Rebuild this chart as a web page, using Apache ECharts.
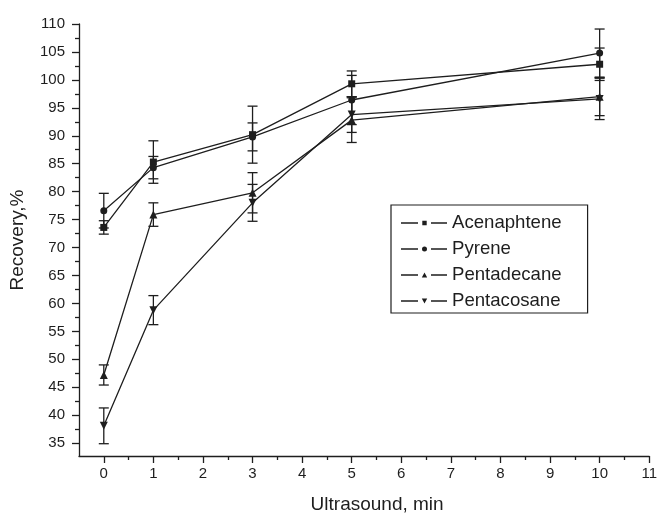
<!DOCTYPE html>
<html>
<head>
<meta charset="utf-8">
<script src="https://cdn.jsdelivr.net/npm/echarts@6/dist/echarts.min.js"></script>
<style>
html,body{margin:0;padding:0;background:#fff;}
#chart{width:660px;height:519px;}
</style>
</head>
<body>
<div id="chart"></div>
<script>
// ---- data ----
const xValues = [0, 1, 3, 5, 10];
const seriesNames = ['Acenaphtene', 'Pyrene', 'Pentadecane', 'Pentacosane'];
const acenaphtene    = [73.6, 85.3, 90.2, 99.3, 102.8];
const acenaphteneErr = [1.2, 3.8, 5.1, 2.3, 2.9];
const pyrene         = [76.6, 84.3, 89.8, 96.4, 104.8];
const pyreneErr      = [3.1, 2.0, 2.5, 4.4, 4.3];
const pentadecane    = [47.2, 75.9, 79.8, 92.8, 97.0];
const pentadecaneErr = [1.8, 2.1, 3.6, 4.0, 3.4];
const pentacosane    = [38.1, 58.8, 78.0, 93.8, 96.6];
const pentacosaneErr = [3.2, 2.6, 3.3, 3.2, 3.7];
const xTickValues = [0,1,2,3,4,5,6,7,8,9,10,11];
const xMinorTicks = [0.5,1.5,2.5,3.5,4.5,5.5,6.5,7.5,8.5,9.5,10.5];
const yTickValues = [35,40,45,50,55,60,65,70,75,80,85,90,95,100,105,110];
const yMinorTicks = [37.5,42.5,47.5,52.5,57.5,62.5,67.5,72.5,77.5,82.5,87.5,92.5,97.5,102.5,107.5];

const values = [acenaphtene, pyrene, pentadecane, pentacosane];
const errs = [acenaphteneErr, pyreneErr, pentadecaneErr, pentacosaneErr];
const symbols = ['rect', 'circle', 'triangle', 'triangle'];
const symbolSizes = [7, 7, 8, 8];
const rotates = [0, 0, 0, 180];

const INK = '#1e1e1e';
const FONT = 'Liberation Sans, Arial, sans-serif';

// legend icons: dash - small marker - dash (46 x 5 box)
const dashes = 'M0,1.85 H17 V3.15 H0 Z M30,1.85 H46 V3.15 H30 Z ';
const legendIcons = [
  'path://' + dashes + 'M21.3,0.3 H25.7 V4.7 H21.3 Z',
  'path://' + dashes + 'M21,2.5 A2.5,2.5 0 1,1 26,2.5 A2.5,2.5 0 1,1 21,2.5 Z',
  'path://' + dashes + 'M23.5,0 L26.2,5 L20.8,5 Z',
  'path://' + dashes + 'M20.8,0 L26.2,0 L23.5,5 Z'
];

const chart = echarts.init(document.getElementById('chart'), null, {renderer: 'canvas'});

const series = [];
values.forEach((vals, i) => {
  series.push({
    name: seriesNames[i] + ' err',
    type: 'custom',
    xAxisIndex: 0, yAxisIndex: 0,
    silent: true,
    z: 1,
    data: xValues.map((x, k) => [x, vals[k] - errs[i][k], vals[k] + errs[i][k]]),
    renderItem: function (params, api) {
      const x = api.value(0);
      const lo = api.coord([x, api.value(1)]);
      const hi = api.coord([x, api.value(2)]);
      const hw = 5;
      const style = {stroke: INK, lineWidth: 1.3, fill: null};
      return {
        type: 'group',
        children: [
          {type: 'line', shape: {x1: lo[0], y1: lo[1], x2: hi[0], y2: hi[1]}, style: style},
          {type: 'line', shape: {x1: lo[0] - hw, y1: lo[1], x2: lo[0] + hw, y2: lo[1]}, style: style},
          {type: 'line', shape: {x1: hi[0] - hw, y1: hi[1], x2: hi[0] + hw, y2: hi[1]}, style: style}
        ]
      };
    }
  });
});
values.forEach((vals, i) => {
  series.push({
    name: seriesNames[i],
    type: 'line',
    xAxisIndex: 0, yAxisIndex: 0,
    z: 3,
    data: xValues.map((x, k) => [x, vals[k]]),
    symbol: symbols[i],
    symbolSize: symbolSizes[i],
    symbolRotate: rotates[i],
    showAllSymbol: true,
    lineStyle: {color: INK, width: 1.3},
    itemStyle: {color: INK, borderWidth: 0},
    emphasis: {disabled: true},
    animation: false
  });
});

const axisLineStyle = {color: INK, width: 1.3};

const option = {
  animation: false,
  backgroundColor: '#ffffff',
  textStyle: {fontFamily: FONT},
  grid: {left: 79, right: 9, top: 24, bottom: 61, containLabel: false},
  legend: {
    data: seriesNames.map((n, i) => ({name: n, icon: legendIcons[i], itemStyle: {color: INK, borderWidth: 0}})),
    orient: 'vertical',
    left: 391,
    top: 205,
    itemWidth: 46,
    itemHeight: 5,
    itemGap: 6,
    padding: [8, 26, 2, 10],
    borderColor: INK,
    borderWidth: 1.2,
    selectedMode: false,
    textStyle: {fontFamily: FONT, fontSize: 18.6, color: INK, lineHeight: 20},
    itemStyle: {borderWidth: 0}
  },
  xAxis: [
    {
      type: 'value', min: -0.5, max: 11, position: 'bottom',
      name: 'Ultrasound, min', nameLocation: 'middle', nameGap: 39,
      nameTextStyle: {fontFamily: FONT, fontSize: 19, color: INK, padding: [0, 0, 0, 26]},
      axisLine: {show: true, onZero: false, lineStyle: axisLineStyle},
      axisTick: {show: true, customValues: xTickValues, length: 7, lineStyle: axisLineStyle},
      axisLabel: {show: true, customValues: xTickValues, fontFamily: FONT, fontSize: 15, color: INK, margin: 10},
      splitLine: {show: false}
    },
    {
      type: 'value', min: -0.5, max: 11, position: 'bottom', offset: 0,
      axisLine: {show: false, onZero: false},
      axisTick: {show: true, customValues: xMinorTicks, length: 4, lineStyle: axisLineStyle},
      axisLabel: {show: false},
      splitLine: {show: false}
    }
  ],
  yAxis: [
    {
      type: 'value', min: 32.7, max: 110, position: 'left',
      name: 'Recovery,%', nameLocation: 'middle', nameGap: 52, nameRotate: 90,
      nameTextStyle: {fontFamily: FONT, fontSize: 19, color: INK},
      axisLine: {show: true, onZero: false, lineStyle: axisLineStyle},
      axisTick: {show: true, customValues: yTickValues, length: 7, lineStyle: axisLineStyle},
      axisLabel: {show: true, customValues: yTickValues, fontFamily: FONT, fontSize: 15, color: INK, margin: 14},
      splitLine: {show: false}
    },
    {
      type: 'value', min: 32.7, max: 110, position: 'left', offset: 0,
      axisLine: {show: false, onZero: false},
      axisTick: {show: true, customValues: yMinorTicks, length: 4, lineStyle: axisLineStyle},
      axisLabel: {show: false},
      splitLine: {show: false}
    }
  ],
  series: series
};
chart.setOption(option);
</script>
</body>
</html>
